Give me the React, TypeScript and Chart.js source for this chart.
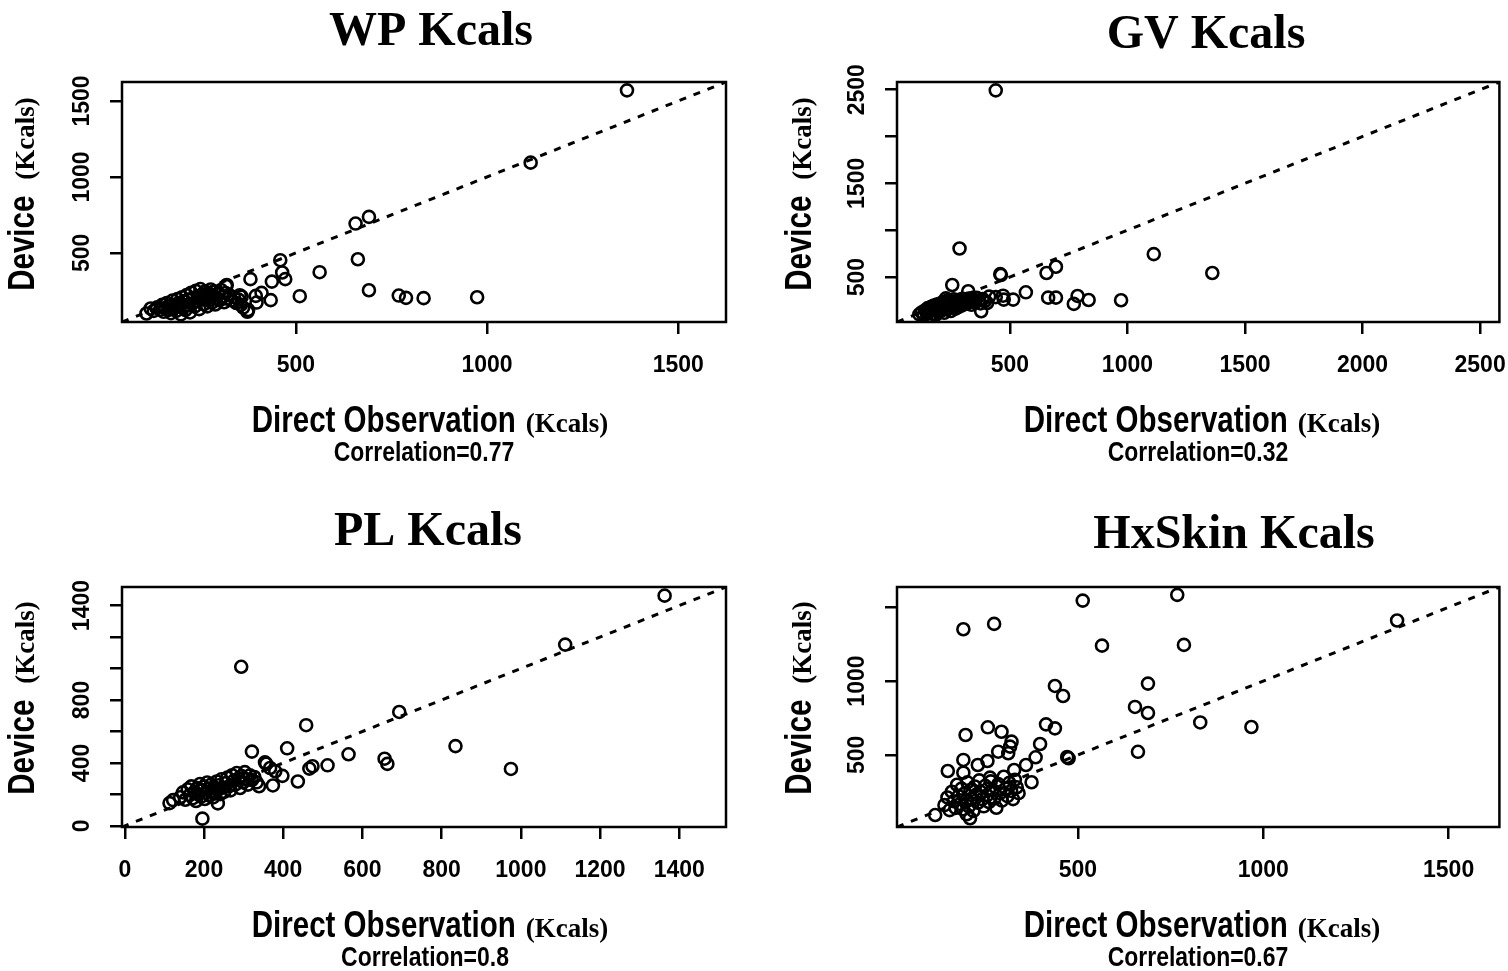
import React, { useEffect, useRef } from "react";
import { Chart, registerables } from "chart.js";

Chart.register(...registerables);

const SANS = '"Liberation Sans", Arial, sans-serif';
const SERIF = '"Liberation Serif", "Times New Roman", serif';

type Pt = [number, number];

// Direct observation (x) vs device estimate (y), kcal per session
const WP_POINTS: Pt[] = [
  [1366, 1570], [1114, 1094], [691, 737], [656, 693], [662, 458], [459, 452], [464, 371], [472, 327],
  [562, 373], [381, 327], [437, 311], [691, 254], [769, 219], [788, 204], [834, 202], [974, 208],
  [510, 215], [434, 189], [397, 173], [410, 237], [395, 217], [353, 221], [317, 283], [373, 112],
  [375, 124], [358, 212], [319, 289], [109, 101], [120, 134],
  [128, 118], [137, 141], [145, 126], [150, 158], [154, 112], [158, 137], [162, 169], [166, 124],
  [170, 150], [173, 103], [177, 186], [180, 133], [184, 160], [187, 118], [190, 196], [193, 147],
  [196, 172], [199, 95], [202, 208], [205, 139], [208, 183], [211, 124], [214, 222], [217, 158],
  [220, 193], [223, 108], [226, 238], [229, 167], [232, 204], [235, 146], [238, 250], [241, 183],
  [244, 215], [247, 130], [250, 262], [253, 195], [256, 228], [259, 162], [262, 246], [265, 205],
  [268, 148], [271, 233], [274, 190], [277, 259], [280, 172], [283, 218], [286, 243], [289, 160],
  [292, 205], [296, 232], [300, 188], [304, 256], [308, 212], [312, 175], [316, 236], [321, 198],
  [326, 222], [332, 187], [338, 208], [344, 170], [350, 192], [356, 158], [362, 140],
];

const GV_POINTS: Pt[] = [
  [440, 2493], [286, 805], [1112, 745], [1361, 543], [696, 610], [656, 543], [459, 532], [462, 521],
  [255, 415], [323, 348], [568, 337], [663, 280], [696, 280], [788, 298], [772, 213], [835, 255],
  [973, 252], [514, 259], [474, 259], [471, 301], [412, 291], [403, 223], [378, 135], [440, 286],
  [228, 272],
  [115, 101], [126, 124], [133, 92], [140, 146], [146, 113], [151, 168], [156, 128], [161, 86],
  [165, 181], [169, 142], [173, 108], [177, 196], [181, 155], [185, 97], [189, 205], [193, 167],
  [197, 126], [201, 214], [205, 178], [209, 143], [213, 229], [217, 188], [221, 118], [225, 239],
  [229, 199], [233, 157], [237, 252], [241, 213], [245, 172], [249, 137], [253, 228], [257, 193],
  [261, 262], [265, 207], [269, 163], [273, 243], [277, 218], [281, 178], [285, 257], [289, 232],
  [294, 196], [299, 268], [304, 238], [309, 211], [314, 254], [319, 223], [325, 271], [331, 242],
  [337, 204], [344, 262], [351, 229], [359, 278], [367, 248], [375, 218], [384, 266], [394, 244],
];

const PL_POINTS: Pt[] = [
  [1363, 1463], [1112, 1152], [294, 1011], [693, 724], [458, 640], [835, 507], [975, 362], [565, 455],
  [656, 427], [663, 394], [410, 493], [321, 472], [354, 404], [367, 368], [380, 347], [398, 318],
  [466, 364], [474, 379], [512, 385], [437, 282], [374, 257], [196, 46], [235, 143], [113, 145],
  [122, 164], [357, 395],
  [140, 182], [147, 213], [153, 166], [159, 232], [164, 196], [168, 251], [172, 176], [176, 216],
  [180, 158], [183, 241], [186, 201], [190, 266], [193, 186], [196, 226], [199, 249], [202, 171],
  [205, 211], [208, 276], [211, 236], [214, 193], [217, 261], [220, 221], [223, 181], [226, 246],
  [229, 206], [232, 282], [235, 231], [238, 258], [241, 202], [244, 296], [247, 242], [251, 216],
  [255, 272], [259, 307], [263, 251], [267, 226], [271, 322], [275, 286], [279, 262], [283, 336],
  [287, 301], [291, 241], [295, 316], [299, 276], [303, 342], [307, 296], [311, 262], [316, 321],
  [321, 291], [327, 311], [333, 277], [339, 252],
];

const HX_POINTS: Pt[] = [
  [768, 1584], [513, 1545], [274, 1387], [191, 1351], [565, 1240], [786, 1245], [1361, 1410], [689, 983],
  [438, 967], [460, 899], [654, 825], [689, 784], [830, 720], [968, 689], [662, 521], [414, 707],
  [438, 680], [471, 486], [475, 477], [398, 574], [386, 484], [375, 315], [360, 432], [328, 398],
  [257, 687], [294, 657], [197, 635], [191, 466], [149, 391], [230, 432], [256, 459], [285, 522],
  [321, 590], [317, 556], [312, 511], [263, 346], [191, 380], [115, 93], [209, 71], [200, 98],
  [140, 160], [148, 212], [154, 126], [160, 251], [165, 186], [170, 141], [174, 298], [178, 221],
  [182, 168], [186, 272], [190, 131], [194, 238], [198, 192], [202, 314], [206, 151], [210, 262],
  [214, 204], [218, 121], [222, 286], [226, 231], [230, 176], [234, 328], [238, 249], [242, 201],
  [246, 152], [250, 291], [255, 226], [260, 181], [265, 321], [270, 262], [275, 206], [280, 142],
  [285, 302], [290, 241], [295, 191], [300, 352], [305, 271], [310, 221], [315, 311], [320, 256],
  [325, 201], [330, 332], [335, 281], [340, 241],
];

// Axis limits (shared by x and y in each panel) and tick values
const WP_LIM: [number, number] = [45, 1625];
const GV_LIM: [number, number] = [20, 2582];
const PL_LIM: [number, number] = [-7, 1518];
const HX_LIM: [number, number] = [12, 1637];

const WP_TICKS = [500, 1000, 1500];
const GV_TICKS = [500, 1000, 1500, 2000, 2500];
const GV_Y_LABELS = [500, 1500, 2500];
const PL_TICKS = [0, 200, 400, 600, 800, 1000, 1200, 1400];
const PL_Y_LABELS = [0, 400, 800, 1400];
const HX_TICKS = [500, 1000, 1500];
const HX_Y_LABELS = [500, 1000];

const TITLES = ["WP Kcals", "GV Kcals", "PL Kcals", "HxSkin Kcals"];
const CORRELATIONS = ["0.77", "0.32", "0.8", "0.67"];

interface Layout {
  origin: [number, number];
  size: [number, number];
  box: [number, number, number, number];
  title: [number, number];
  yTitle: [number, number];
  xTitle: [number, number];
  corr: [number, number];
}

const LAYOUTS: Layout[] = [
  { origin: [0, 0], size: [754, 485], box: [122, 82, 726, 322], title: [431, 45], yTitle: [34, 194], xTitle: [430, 432], corr: [424, 461] },
  { origin: [754, 0], size: [754, 485], box: [897, 82, 1500, 322], title: [1206, 48], yTitle: [811, 194], xTitle: [1202, 432], corr: [1198, 461] },
  { origin: [0, 485], size: [754, 486], box: [122, 587, 726, 827], title: [428, 545], yTitle: [34, 698], xTitle: [430, 937], corr: [425, 966] },
  { origin: [754, 485], size: [754, 486], box: [897, 587, 1500, 827], title: [1234, 548], yTitle: [811, 698], xTitle: [1202, 937], corr: [1198, 966] },
];

interface PanelData {
  points: Pt[];
  lim: [number, number];
  xTicks: number[];
  yTicks: number[];
  yLabels: number[];
}

const PANELS: PanelData[] = [
  { points: WP_POINTS, lim: WP_LIM, xTicks: WP_TICKS, yTicks: WP_TICKS, yLabels: WP_TICKS },
  { points: GV_POINTS, lim: GV_LIM, xTicks: GV_TICKS, yTicks: GV_TICKS, yLabels: GV_Y_LABELS },
  { points: PL_POINTS, lim: PL_LIM, xTicks: PL_TICKS, yTicks: PL_TICKS, yLabels: PL_Y_LABELS },
  { points: HX_POINTS, lim: HX_LIM, xTicks: HX_TICKS, yTicks: HX_TICKS, yLabels: HX_Y_LABELS },
];

const TICK_LEN = 12;
const TICK_FONT = { family: SANS, size: 23, weight: "bold" as const, lineHeight: 1 };

// sx: horizontal squeeze giving the condensed sans look
type Part = { text: string; font: string; sx: number };

const LABEL_MAIN = `bold 36px ${SANS}`;
const LABEL_UNIT = `bold 27px ${SERIF}`;
const NARROW = 0.82;

// draws a run of differently styled pieces centred on (cx, baseline)
function drawRun(ctx: CanvasRenderingContext2D, parts: Part[], cx: number, base: number, gap: number) {
  const widths = parts.map((p) => {
    ctx.font = p.font;
    return ctx.measureText(p.text).width * p.sx;
  });
  const total = widths.reduce((a, b) => a + b, 0) + gap * (parts.length - 1);
  let x = cx - total / 2;
  ctx.textAlign = "left";
  ctx.textBaseline = "alphabetic";
  parts.forEach((p, i) => {
    ctx.font = p.font;
    ctx.save();
    ctx.translate(x, base);
    ctx.scale(p.sx, 1);
    ctx.fillText(p.text, 0, 0);
    ctx.restore();
    x += widths[i] + gap;
  });
}

function Panel({ index }: { index: number }) {
  const ref = useRef<HTMLCanvasElement>(null);
  const lay = LAYOUTS[index];
  const data = PANELS[index];

  useEffect(() => {
    const [ox, oy] = lay.origin;
    const [w, h] = lay.size;
    const [bl, bt, br, bb] = lay.box;
    const left = bl - ox;
    const top = bt - oy;
    const right = w - (br - ox);
    const bottomH = h - (bb - oy);

    const decorations = {
      id: "panelDecorations",
      afterDraw(chart: Chart) {
        const ctx = chart.ctx;
        const a = chart.chartArea;
        ctx.save();
        ctx.strokeStyle = "#000";
        ctx.lineWidth = 2.5;
        ctx.strokeRect(a.left, a.top, a.right - a.left, a.bottom - a.top);
        ctx.fillStyle = "#000";

        // panel title
        ctx.font = `bold 48px ${SERIF}`;
        ctx.textAlign = "center";
        ctx.textBaseline = "alphabetic";
        ctx.fillText(TITLES[index], lay.title[0] - ox, lay.title[1] - oy);

        // x axis title and correlation note
        drawRun(
          ctx,
          [
            { text: "Direct Observation", font: LABEL_MAIN, sx: NARROW },
            { text: "(Kcals)", font: LABEL_UNIT, sx: 1 },
          ],
          lay.xTitle[0] - ox,
          lay.xTitle[1] - oy,
          10
        );
        drawRun(
          ctx,
          [{ text: `Correlation=${CORRELATIONS[index]}`, font: `bold 28px ${SANS}`, sx: NARROW }],
          lay.corr[0] - ox,
          lay.corr[1] - oy,
          0
        );

        // y axis title, reading upwards
        ctx.save();
        ctx.translate(lay.yTitle[0] - ox, lay.yTitle[1] - oy);
        ctx.rotate(-Math.PI / 2);
        drawRun(
          ctx,
          [
            { text: "Device", font: LABEL_MAIN, sx: NARROW },
            { text: "(Kcals)", font: LABEL_UNIT, sx: 1 },
          ],
          0,
          0,
          16
        );
        ctx.restore();
        ctx.restore();
      },
    };

    const grid = {
      display: true,
      drawOnChartArea: false,
      drawTicks: true,
      tickLength: TICK_LEN,
      color: "#000",
      lineWidth: 2.5,
    };

    const chart = new Chart(ref.current as HTMLCanvasElement, {
      type: "scatter",
      data: {
        datasets: [
          {
            data: data.points.map(([x, y]) => ({ x, y })),
            pointStyle: "circle",
            pointRadius: 6,
            pointBorderWidth: 2.6,
            pointBorderColor: "#000",
            pointBackgroundColor: "rgba(0,0,0,0)",
            showLine: false,
          },
          {
            // identity line y = x across the plotting range
            data: [
              { x: data.lim[0], y: data.lim[0] },
              { x: data.lim[1], y: data.lim[1] },
            ],
            showLine: true,
            borderColor: "#000",
            borderWidth: 3,
            borderDash: [7, 8],
            pointRadius: 0,
          },
        ],
      },
      options: {
        responsive: false,
        animation: false,
        devicePixelRatio: 1,
        layout: { padding: { left: 0, top, right, bottom: 0 } },
        plugins: { legend: { display: false }, tooltip: { enabled: false } },
        scales: {
          x: {
            type: "linear",
            position: "bottom",
            min: data.lim[0],
            max: data.lim[1],
            afterBuildTicks: (s: any) => {
              s.ticks = data.xTicks.map((v) => ({ value: v }));
            },
            afterFit: (s: any) => {
              s.height = bottomH;
              s.paddingLeft = 0;
              s.paddingRight = 0;
            },
            grid,
            border: { display: false },
            ticks: {
              color: "#000",
              font: TICK_FONT,
              padding: 20,
              maxRotation: 0,
              autoSkip: false,
              callback: (v: any) => String(v),
            },
          },
          y: {
            type: "linear",
            position: "left",
            min: data.lim[0],
            max: data.lim[1],
            afterBuildTicks: (s: any) => {
              s.ticks = data.yTicks.map((v) => ({ value: v }));
            },
            afterFit: (s: any) => {
              s.width = left;
              s.paddingTop = 0;
              s.paddingBottom = 0;
            },
            grid,
            border: { display: false },
            ticks: {
              color: "#000",
              font: TICK_FONT,
              padding: 2,
              minRotation: 90,
              maxRotation: 90,
              crossAlign: "center",
              autoSkip: false,
              callback: (v: any) => (data.yLabels.includes(v) ? String(v) : ""),
            },
          },
        },
      },
      plugins: [decorations],
    } as any);
    return () => chart.destroy();
  }, []);

  return (
    <canvas
      ref={ref}
      width={lay.size[0]}
      height={lay.size[1]}
      style={{
        position: "absolute",
        left: lay.origin[0],
        top: lay.origin[1],
        width: lay.size[0],
        height: lay.size[1],
      }}
    />
  );
}

export default function App() {
  return (
    <div style={{ position: "absolute", left: 0, top: 0, width: 1508, height: 971, background: "#fff" }}>
      {LAYOUTS.map((_, i) => (
        <Panel key={i} index={i} />
      ))}
    </div>
  );
}
